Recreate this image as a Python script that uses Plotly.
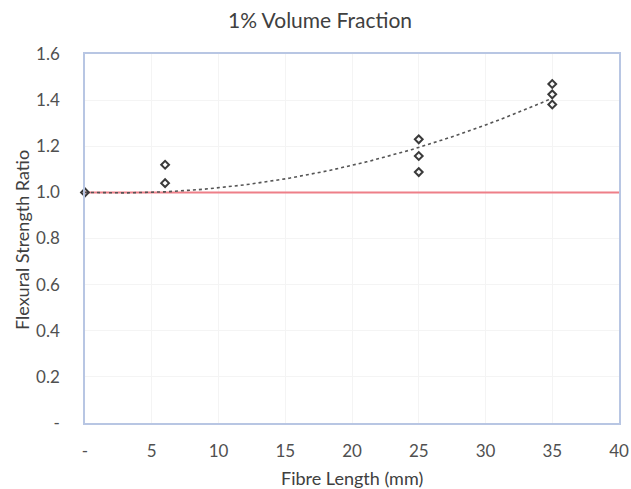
import numpy as np
import plotly.graph_objects as go

# Flexural strength ratio measured for each fibre length (1% volume fraction)
fibre_length_mm = [0, 6, 6, 25, 25, 25, 35, 35, 35]
strength_ratio = [1.00, 1.12, 1.04, 1.23, 1.158, 1.088, 1.47, 1.425, 1.381]

# Reference (plain matrix) ratio line
reference_x = [0, 40]
reference_y = [1.0, 1.0]

# Tick positions and labels
x_tickvals = [0, 5, 10, 15, 20, 25, 30, 35, 40]
x_ticktext = ["-", "5", "10", "15", "20", "25", "30", "35", "40"]
y_tickvals = [0, 0.2, 0.4, 0.6, 0.8, 1.0, 1.2, 1.4, 1.6]
y_ticktext = ["-", "0.2", "0.4", "0.6", "0.8", "1.0", "1.2", "1.4", "1.6"]

# Second-order polynomial trendline with the intercept fixed at 1.0
TREND_INTERCEPT = 1.0
xs = np.array(fibre_length_mm, dtype=float)
ys = np.array(strength_ratio, dtype=float)
A = np.column_stack([xs, xs ** 2])
(b1, b2), *_ = np.linalg.lstsq(A, ys - TREND_INTERCEPT, rcond=None)
trend_x = np.linspace(min(fibre_length_mm), max(fibre_length_mm), 200)
trend_y = TREND_INTERCEPT + b1 * trend_x + b2 * trend_x ** 2

TEXT = "#505050"
FONT = "Lato"

fig = go.Figure()

fig.add_trace(go.Scatter(
    x=reference_x, y=reference_y, mode="lines",
    line=dict(color="#ee7f88", width=2),
    hoverinfo="skip", showlegend=False,
))
fig.add_trace(go.Scatter(
    x=trend_x, y=trend_y, mode="lines",
    line=dict(color="#555555", width=1.6, dash="dot"),
    hoverinfo="skip", showlegend=False,
))
fig.add_trace(go.Scatter(
    x=fibre_length_mm, y=strength_ratio, mode="markers",
    marker=dict(symbol="diamond-open", size=6, color="#3a3a3a",
                line=dict(width=2, color="#3a3a3a")),
    cliponaxis=False, showlegend=False,
))

fig.update_layout(
    width=631, height=489,
    margin=dict(l=85, r=12, t=54, b=66, autoexpand=False),
    paper_bgcolor="white", plot_bgcolor="white",
    font=dict(family=FONT, color=TEXT, size=17),
    title=dict(text="1% Volume Fraction", x=320 / 631, xref="container",
               y=1 - 21 / 489, yref="container", xanchor="center",
               yanchor="middle", font=dict(size=21, color="#404040")),
    annotations=[
        dict(text="Fibre Length (mm)", xref="paper", yref="paper",
             x=0.5, y=(423 - 478) / 369, showarrow=False,
             xanchor="center", yanchor="middle",
             font=dict(size=18, color="#404040")),
        dict(text="Flexural Strength Ratio", xref="paper", yref="paper",
             x=(22 - 85) / 534, y=(423 - 240) / 369, showarrow=False,
             textangle=-90, xanchor="center", yanchor="middle",
             font=dict(size=18, color="#404040")),
    ],
)

fig.update_xaxes(
    range=[0, 40], tickvals=x_tickvals, ticktext=x_ticktext,
    showgrid=True, gridcolor="#f4f4f4", gridwidth=1, zeroline=False,
    showline=True, linecolor="#b8c6e3", linewidth=1.5, mirror=True,
    ticks="", ticklabelstandoff=12, automargin=False,
    tickfont=dict(size=17, color=TEXT),
)
fig.update_yaxes(
    range=[0, 1.6], tickvals=y_tickvals, ticktext=y_ticktext,
    showgrid=True, gridcolor="#f4f4f4", gridwidth=1, zeroline=False,
    showline=True, linecolor="#b8c6e3", linewidth=1.5, mirror=True,
    ticks="", ticklabelstandoff=20, automargin=False,
    tickfont=dict(size=17, color=TEXT),
)

fig.write_html("out.html")
